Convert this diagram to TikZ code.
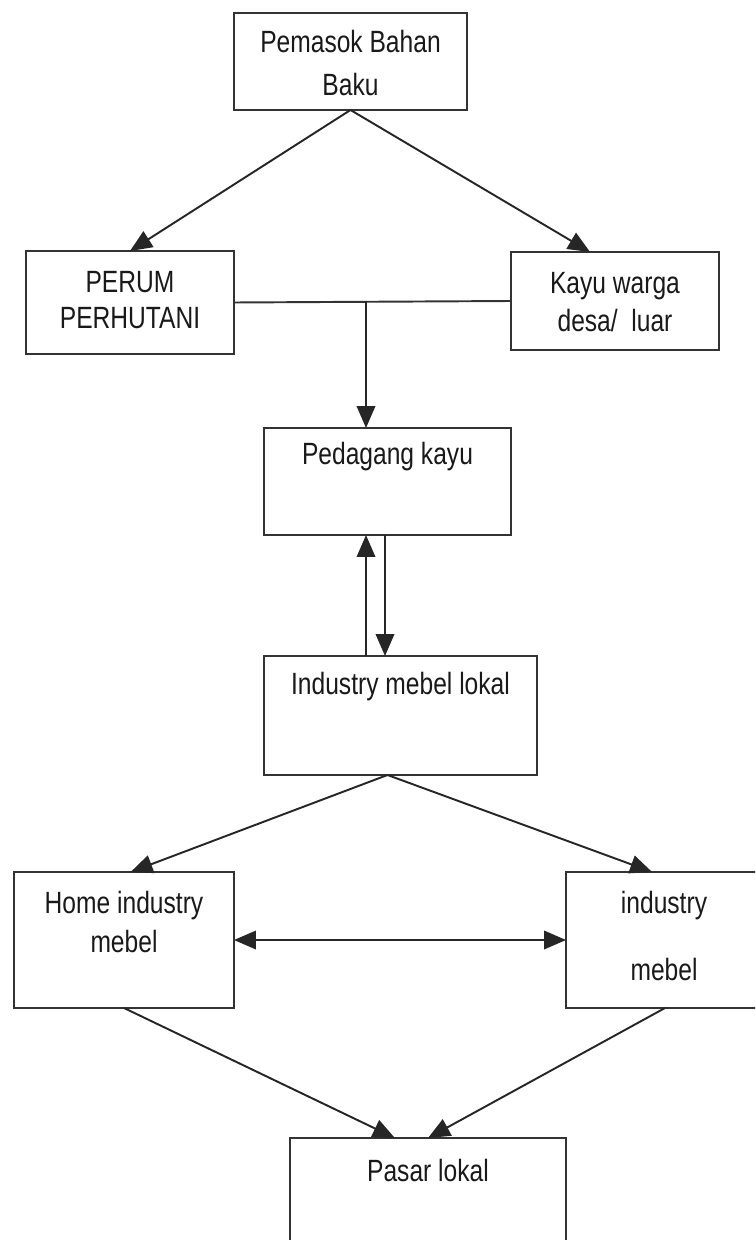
\documentclass[tikz,border=0pt]{standalone}
\usepackage{fontspec}
\setmainfont{Liberation Sans}[FakeStretch=0.8]
\usetikzlibrary{arrows.meta,calc}

\begin{document}
\begin{tikzpicture}[x=0.02cm,y=-0.02cm,
	box/.style={draw=black!80,line width=1.1pt,inner sep=0pt,outer sep=0pt},
	txt/.style={align=center,text=black!90,inner sep=0pt,font=\fontsize{17.5pt}{22pt}\selectfont},
	tip/.tip={Triangle[length=0.44cm,width=0.37cm]},
	arr/.style={draw=black!85,line width=1.1pt,-tip},
	link/.style={draw=black!80,line width=1.1pt}]
	\useasboundingbox (0,0) rectangle (755,1240);
	\clip (0,0) rectangle (755,1240);
	% boxes
	\node[box,minimum width=4.66cm,minimum height=1.94cm] (pemasok) at (350.5,61.5) {};
	\node[box,minimum width=4.16cm,minimum height=2.06cm] (perum) at (130,302.5) {};
	\node[box,minimum width=4.16cm,minimum height=1.96cm] (kayu) at (615,301) {};
	\node[box,minimum width=4.94cm,minimum height=2.14cm] (pedagang) at (387.5,481.5) {};
	\node[box,minimum width=5.46cm,minimum height=2.38cm] (lokal) at (400.5,715.5) {};
	\node[box,minimum width=4.4cm,minimum height=2.72cm] (home) at (124,940) {};
	\node[box,minimum width=3.96cm,minimum height=2.72cm] (mebel) at (665,940) {};
	\node[box,minimum width=5.52cm,minimum height=3.04cm] (pasar) at (428,1214) {};
	% texts
	\node[txt] (pemasok-t) at (350.5,63) {Pemasok Bahan\\[0.08cm]Baku};
	\node[txt] (perum-t) at (130,300) {PERUM\\[-0.06cm]PERHUTANI};
	\node[txt] (kayu-t) at (615,302) {Kayu warga\\desa/\ \ luar};
	\node[txt] (pedagang-t) at (387.5,457) {Pedagang kayu};
	\node[txt] (lokal-t) at (400.5,687) {Industry mebel lokal};
	\node[txt] (home-t) at (124,922) {Home industry\\mebel};
	\node[txt] (mebel-t) at (664,936) {industry\\[0.58cm]mebel};
	\node[txt] (pasar-t) at (428,1170) {Pasar lokal};
	% connectors
	\draw[arr] (pemasok.south) -- (perum.north);
	\draw[arr] (pemasok.south) -- ($(kayu.north west)!0.38!(kayu.north east)$);
	\draw[link] (perum.east) -- (kayu.west);
	\coordinate (jn) at (366,301);
	\coordinate (dn) at (385,535);
	\draw[arr] (jn) -- (jn |- pedagang.north);
	\draw[arr] (jn |- lokal.north) -- (jn |- pedagang.south);
	\draw[arr] (dn) -- (dn |- lokal.north);
	\coordinate (lj) at (lokal.south -| pedagang.south);
	\draw[arr] (lj) -- ($(home.north west)!0.53!(home.north east)$);
	\draw[arr] (lj) -- ($(mebel.north west)!0.435!(mebel.north east)$);
	\draw[arr,tip-tip] (home.east) -- (mebel.west);
	\draw[arr] (home.south) -- ($(pasar.north west)!0.38!(pasar.north east)$);
	\draw[arr] (mebel.south) -- (pasar.north);
\end{tikzpicture}
\end{document}
